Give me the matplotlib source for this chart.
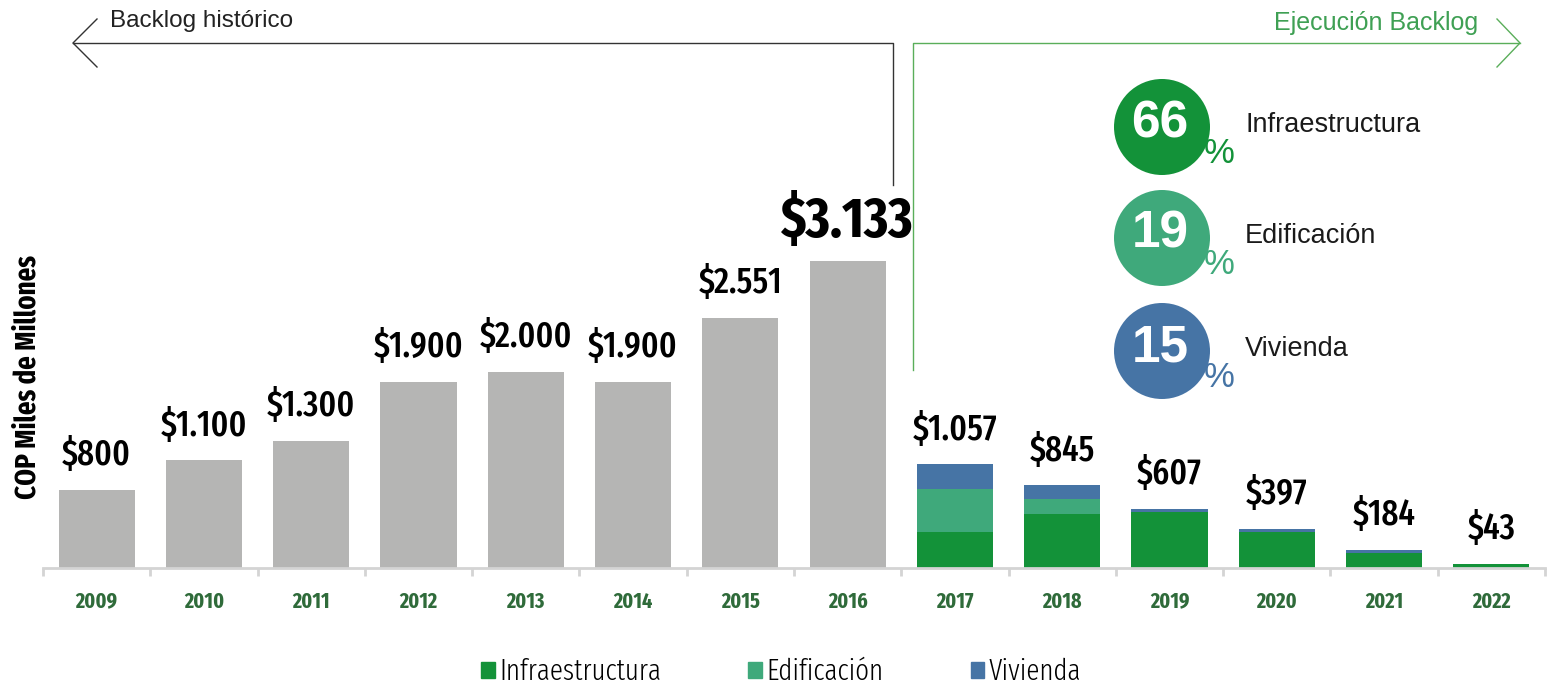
import numpy as np
import matplotlib
matplotlib.use("Agg")
import matplotlib.pyplot as plt
from matplotlib import font_manager as fm
from matplotlib.patches import Circle, Patch
from matplotlib.lines import Line2D

# --- data ---------------------------------------------------------------
years = ["2009", "2010", "2011", "2012", "2013", "2014", "2015", "2016",
         "2017", "2018", "2019", "2020", "2021", "2022"]
historico = [800, 1100, 1300, 1900, 2000, 1900, 2551, 3133]
infraestructura = [367, 546, 573, 366, 150, 43]
edificacion = [440, 153, 0, 0, 0, 0]
vivienda = [250, 146, 34, 31, 34, 0]
totales = [1057, 845, 607, 397, 184, 43]
mix_pct = [66, 19, 15]
mix_names = ["Infraestructura", "Edificación", "Vivienda"]

GRAY = "#b5b5b4"
C_INF = "#139239"
C_EDI = "#3fa97b"
C_VIV = "#4674a5"
YEAR_C = "#2f6b3a"
GREEN_LINE = "#5aae5a"
colors = [C_INF, C_EDI, C_VIV]

SANS = ["Liberation Sans", "DejaVu Sans"]


def _weight(w):
    try:
        return int(w)
    except ValueError:
        return {"light": 300, "normal": 400, "regular": 400, "medium": 500,
                "semibold": 600, "demibold": 600, "bold": 700,
                "heavy": 800, "black": 900}.get(str(w).lower(), 400)


def narrow_font(target_w):
    # look for a condensed / narrow sans face among installed fonts
    best = None
    for f in fm.fontManager.ttflist:
        nm = f.name.lower()
        st = str(f.stretch).lower()
        fname = f.fname.lower()
        cond = ("narrow" in nm or "condensed" in nm or "condensed" in st
                or "condensed" in fname or "narrow" in fname)
        if not cond or f.style != "normal" or "mono" in nm or "italic" in fname:
            continue
        if "serif" in nm.replace("sans", ""):
            continue
        w = _weight(f.weight)
        extra = 0 if ("extra" in st or "extra" in fname) else 1
        key = (abs(w - target_w), -w, extra)
        if best is None or key < best[0]:
            best = (key, f.fname)
    if best:
        return fm.FontProperties(fname=best[1])
    return fm.FontProperties(family=SANS, weight="bold" if target_w >= 600 else "normal")


FP_L = narrow_font(300)
FP_N = narrow_font(500)
FP_B = narrow_font(700)

W, H = 1551, 686
fig = plt.figure(figsize=(W / 100, H / 100), dpi=100)
renderer = fig.canvas.get_renderer()


def fit_size(fp, sample, target_px, max_pt):
    t = fig.text(0, 0, sample, fontproperties=fp, size=20)
    w = t.get_window_extent(renderer).width
    t.remove()
    return min(max_pt, 20 * target_px / w)


S_VAL = fit_size(FP_N, "$1.900", 90, 36)
S_BIG = fit_size(FP_B, "$3.133", 133, 44)
S_YEAR = fit_size(FP_B, "2009", 42, 17)
S_YLAB = fit_size(FP_B, "COP Miles de Millones", 245, 24)
S_LEG = fit_size(FP_L, "Infraestructura", 176, 21)

# main axes: baseline at y=568px, 0.098 px per unit
base_px = 568
left_px, right_px = 43, 1545
ax = fig.add_axes([left_px / W, (H - base_px) / H, (right_px - left_px) / W, 538 / H])
ax.set_xlim(-0.5, len(years) - 0.5)
ax.set_ylim(0, 538 / 0.098)

width = 0.71
x_hist = np.arange(len(historico))
x_new = np.arange(len(historico), len(years))

ax.bar(x_hist, historico, width, color=GRAY, edgecolor="none")
inf = np.array(infraestructura)
edi = np.array(edificacion)
viv = np.array(vivienda)
ax.bar(x_new, inf, width, color=C_INF, edgecolor="none")
ax.bar(x_new, edi, width, bottom=inf, color=C_EDI, edgecolor="none")
ax.bar(x_new, viv, width, bottom=inf + edi, color=C_VIV, edgecolor="none")


def money(v):
    return "$" + f"{v:,}".replace(",", ".")


# value labels
for i, v in enumerate(historico):
    if v == max(historico):
        ax.annotate(money(v), (x_hist[i], v), xytext=(0, 8), textcoords="offset points",
                    ha="center", va="bottom", fontproperties=FP_B, size=S_BIG, color="black")
    else:
        ax.annotate(money(v), (x_hist[i], v), xytext=(0, 12), textcoords="offset points",
                    ha="center", va="bottom", fontproperties=FP_N, size=S_VAL, color="black")
for i, v in enumerate(totales):
    ax.annotate(money(v), (x_new[i], v), xytext=(0, 12), textcoords="offset points",
                ha="center", va="bottom", fontproperties=FP_N, size=S_VAL, color="black")

# axes styling
for s in ["top", "right", "left"]:
    ax.spines[s].set_visible(False)
ax.spines["bottom"].set_color("#d4d4d4")
ax.spines["bottom"].set_linewidth(2)
ax.set_yticks([])
ax.set_xticks(np.arange(len(years)))
ax.set_xticklabels(years, color=YEAR_C)
for lab in ax.get_xticklabels():
    lab.set_fontproperties(FP_B)
    lab.set_size(S_YEAR)
    lab.set_va("baseline")
ax.tick_params(axis="x", which="major", length=0, pad=28.5)
ax.set_xticks(np.arange(len(years) + 1) - 0.5, minor=True)
ax.tick_params(axis="x", which="minor", length=6, width=2, color="#d4d4d4")
ax.set_ylabel("COP Miles de Millones", fontproperties=FP_B, size=S_YLAB, color="black")
ax.yaxis.set_label_coords(-0.001, 0.355)

# overlay in pixel coordinates for annotations
ov = fig.add_axes([0, 0, 1, 1], facecolor="none")
ov.set_xlim(0, W)
ov.set_ylim(H, 0)
ov.axis("off")

# left arrow: Backlog histórico
ov.add_line(Line2D([73, 893, 893], [43, 43, 185], color="#333333", lw=1))
ov.add_line(Line2D([97, 73, 97], [19, 43, 67], color="#333333", lw=1))
ov.text(110, 21, "Backlog histórico", fontsize=17.5, family=SANS, color="#222222",
        ha="left", va="center")

# right arrow: Ejecución Backlog
ov.add_line(Line2D([913, 913, 1520], [370, 43, 43], color=GREEN_LINE, lw=1))
ov.add_line(Line2D([1497, 1520, 1497], [19, 43, 67], color=GREEN_LINE, lw=1))
ov.text(1478, 23, "Ejecución Backlog", fontsize=18, family=SANS, color="#3fa054",
        ha="right", va="center")

# circles with percentages
centers_y = [127, 238, 351]
for cy, pct, name, col in zip(centers_y, mix_pct, mix_names, colors):
    ov.add_patch(Circle((1162, cy), 48, color=col, ec="none"))
    ov.text(1160, cy + 10, str(pct), fontsize=37, fontweight="bold", family=SANS,
            color="white", ha="center", va="baseline")
    ov.text(1219, cy + 36, "%", fontsize=25, family=SANS, color=col,
            ha="center", va="baseline")
    ov.text(1245, cy + 5, name, fontsize=19.5, family=SANS, color="#1a1a1a",
            ha="left", va="baseline")

# legend
handles = [Patch(color=c) for c in colors]
leg_fp = FP_L.copy()
leg_fp.set_size(S_LEG)
fig.legend(handles, mix_names, loc="center", bbox_to_anchor=(781 / W, 1 - 672 / H),
           ncol=3, frameon=False, handlelength=0.45, handleheight=0.45,
           handletextpad=0.15, columnspacing=3.0, prop=leg_fp)

fig.savefig("out.png", dpi=100)
